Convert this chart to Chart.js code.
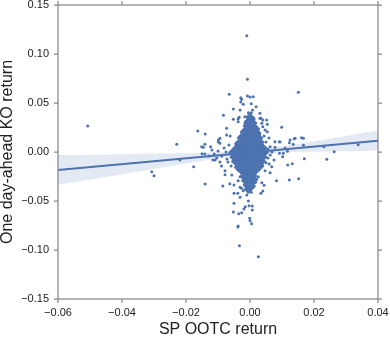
<!DOCTYPE html>
<html><head><meta charset="utf-8">
<script src="https://cdn.jsdelivr.net/npm/chart.js@4/dist/chart.umd.min.js"></script>
<style>html,body{margin:0;padding:0;background:#fff}#wrap{width:390px;height:339px}</style>
</head><body><div id="wrap"><canvas id="c" width="390" height="339"></canvas></div>
<script>
// Axis ticks
const xTicks = [-0.06, -0.04, -0.02, 0.00, 0.02, 0.04];
const yTicks = [-0.15, -0.10, -0.05, 0.00, 0.05, 0.10, 0.15];

// Scattered points outside the dense core (SP OOTC return, KO return)
const sparseX = [-0.0010,-0.0008,0.0151,-0.0065,-0.0029,-0.0008,0.0000,-0.0029,-0.0021,0.0004,
 -0.0507,-0.0307,-0.0300,-0.0229,-0.0219,-0.0176,-0.0163,-0.0140,-0.0083,-0.0052,
 0.0099,0.0138,0.0167,0.0123,0.0135,0.0167,0.0231,0.0338,0.0263,0.0170,
 0.0240,0.0132,0.0118,0.0102,0.0092,0.0078,0.0094,0.0109,0.0104,0.0117,
 0.0063,0.0052,0.0034,0.0047,0.0019,0.0010,-0.0140,-0.0085,0.0152,0.0083,
 -0.0146,-0.0099,-0.0094,-0.0073,-0.0062,-0.0037,-0.0031,-0.0026,0.0031,0.0040,
 0.0054,0.0040,-0.0034,-0.0052,-0.0073,-0.0063,-0.0050,-0.0031,0.0037,0.0044,
 0.0040,0.0034,-0.0038,-0.0031,-0.0050,-0.0005,-0.0003,0.0007,-0.0015,-0.0019,
 0.0007,-0.0052,-0.0035,-0.0026,-0.0001,0.0000,0.0005,-0.0037,-0.0038,-0.0033,
 0.0026,0.0123,-0.0109,-0.0104,-0.0089,-0.0078,-0.0078,-0.0057,-0.0037,-0.0050,
 0.0063,0.0068,0.0060,0.0050,0.0047,0.0026,0.0021,-0.0037,-0.0031,-0.0026,
 -0.0021,-0.0010,-0.0151,-0.0141,-0.0123,-0.0099,-0.0094,-0.0037,-0.0016,-0.0016,
 0.0008,0.0031,0.0037,0.0054,0.0026,0.0078,0.0092,0.0125,0.0141,0.0161,
 -0.0119,-0.0112,-0.0100,-0.0088,-0.0081,-0.0075,-0.0072,-0.0066,-0.0069,-0.0059,
 -0.0128,-0.0116,-0.0094,0.0056,0.0063,0.0069,0.0056,0.0075,0.0050,0.0059,
 0.0044,-0.0141,-0.0150];
const sparseY = [0.1187,0.0742,0.0609,0.0589,0.0554,0.0571,0.0561,0.0510,0.0487,0.0493,
 0.0265,-0.0201,-0.0242,0.0079,-0.0082,-0.0150,0.0214,0.0184,0.0374,0.0439,
 0.0252,0.0136,0.0140,0.0095,0.0079,0.0068,0.0054,0.0074,0.0003,-0.0068,
 -0.0074,-0.0119,-0.0133,-0.0048,-0.0013,0.0048,0.0102,0.0041,-0.0013,0.0007,
 0.0054,0.0326,0.0344,0.0224,0.0462,0.0564,-0.0326,-0.0347,-0.0272,-0.0293,
 0.0048,0.0122,0.0089,0.0173,0.0163,0.0309,0.0428,0.0538,0.0395,0.0326,
 0.0207,0.0258,0.0354,0.0334,0.0242,-0.0323,-0.0337,-0.0360,-0.0313,-0.0340,
 -0.0398,-0.0421,-0.0421,-0.0462,-0.0523,-0.0500,-0.0548,-0.0551,-0.0558,-0.0581,
 -0.0592,-0.0612,-0.0629,-0.0619,-0.0676,-0.0701,-0.0731,-0.0755,-0.0765,-0.0956,
 -0.1068,-0.0286,-0.0082,-0.0061,-0.0143,-0.0191,-0.0232,-0.0235,-0.0293,-0.0421,
 -0.0211,-0.0150,-0.0122,-0.0109,-0.0191,-0.0252,-0.0278,-0.0184,-0.0252,-0.0370,
 -0.0395,-0.0439,0.0054,0.0079,0.0054,0.0105,0.0140,0.0337,0.0360,0.0293,
 0.0428,0.0344,0.0293,0.0283,0.0207,0.0105,0.0105,0.0122,0.0140,0.0146,
 0.0020,-0.0020,0.0010,-0.0041,0.0041,0.0000,-0.0071,0.0071,-0.0102,-0.0143,
 -0.0041,-0.0082,-0.0102,0.0031,-0.0031,0.0000,-0.0061,-0.0082,0.0102,0.0143,
 0.0163,-0.0020,-0.0018];

// Dense core, read row by row: KO return of each row and the SP returns in it
const coreRowY = [0.0400,0.0385,0.0370,0.0355,0.0340,0.0325,0.0310,0.0295,0.0280,0.0265,
 0.0250,0.0235,0.0220,0.0205,0.0190,0.0175,0.0160,0.0145,0.0130,0.0115,
 0.0100,0.0085,0.0070,0.0055,0.0040,0.0025,0.0010,-0.0005,-0.0020,-0.0035,
 -0.0050,-0.0065,-0.0080,-0.0095,-0.0110,-0.0125,-0.0140,-0.0155,-0.0170,-0.0185,
 -0.0200,-0.0215,-0.0230,-0.0245,-0.0260,-0.0275,-0.0290,-0.0305,-0.0320,-0.0335,
 -0.0350,-0.0365,-0.0380,-0.0395,-0.0410];
const coreRowX = [
 [-0.0005,0.0004],
 [0.0000],
 [-0.0005,0.0004],
 [-0.0009,0.0000,0.0009],
 [-0.0005,0.0004,0.0013],
 [-0.0009,0.0000,0.0009],
 [-0.0014,-0.0005,0.0004,0.0013],
 [-0.0009,0.0000,0.0009,0.0018],
 [-0.0014,-0.0005,0.0004,0.0013],
 [-0.0018,-0.0009,0.0000,0.0009,0.0018],
 [-0.0014,-0.0005,0.0004,0.0013,0.0022],
 [-0.0018,-0.0009,0.0000,0.0009,0.0018,0.0027],
 [-0.0023,-0.0014,-0.0005,0.0004,0.0013,0.0022],
 [-0.0027,-0.0018,-0.0009,0.0000,0.0009,0.0018,0.0027],
 [-0.0023,-0.0014,-0.0005,0.0004,0.0013,0.0022,0.0031],
 [-0.0027,-0.0018,-0.0009,0.0000,0.0009,0.0018,0.0027],
 [-0.0032,-0.0023,-0.0014,-0.0005,0.0004,0.0013,0.0022,0.0031],
 [-0.0036,-0.0027,-0.0018,-0.0009,0.0000,0.0009,0.0018,0.0027,0.0036],
 [-0.0032,-0.0023,-0.0014,-0.0005,0.0004,0.0013,0.0022,0.0031],
 [-0.0036,-0.0027,-0.0018,-0.0009,0.0000,0.0009,0.0018,0.0027,0.0036],
 [-0.0041,-0.0032,-0.0023,-0.0014,-0.0005,0.0004,0.0013,0.0022,0.0031,0.0040],
 [-0.0045,-0.0036,-0.0027,-0.0018,-0.0009,0.0000,0.0009,0.0018,0.0027,0.0036],
 [-0.0041,-0.0032,-0.0023,-0.0014,-0.0005,0.0004,0.0013,0.0022,0.0031,0.0040],
 [-0.0045,-0.0036,-0.0027,-0.0018,-0.0009,0.0000,0.0009,0.0018,0.0027,0.0036,0.0045],
 [-0.0050,-0.0041,-0.0032,-0.0023,-0.0014,-0.0005,0.0004,0.0013,0.0022,0.0031,0.0040,0.0049],
 [-0.0054,-0.0045,-0.0036,-0.0027,-0.0018,-0.0009,0.0000,0.0009,0.0018,0.0027,0.0036,0.0045],
 [-0.0059,-0.0050,-0.0041,-0.0032,-0.0023,-0.0014,-0.0005,0.0004,0.0013,0.0022,0.0031,0.0040,0.0049],
 [-0.0063,-0.0054,-0.0045,-0.0036,-0.0027,-0.0018,-0.0009,0.0000,0.0009,0.0018,0.0027,0.0036,0.0045,0.0054],
 [-0.0059,-0.0050,-0.0041,-0.0032,-0.0023,-0.0014,-0.0005,0.0004,0.0013,0.0022,0.0031,0.0040,0.0049],
 [-0.0054,-0.0045,-0.0036,-0.0027,-0.0018,-0.0009,0.0000,0.0009,0.0018,0.0027,0.0036,0.0045],
 [-0.0059,-0.0050,-0.0041,-0.0032,-0.0023,-0.0014,-0.0005,0.0004,0.0013,0.0022,0.0031,0.0040,0.0049],
 [-0.0054,-0.0045,-0.0036,-0.0027,-0.0018,-0.0009,0.0000,0.0009,0.0018,0.0027,0.0036,0.0045],
 [-0.0050,-0.0041,-0.0032,-0.0023,-0.0014,-0.0005,0.0004,0.0013,0.0022,0.0031,0.0040],
 [-0.0054,-0.0045,-0.0036,-0.0027,-0.0018,-0.0009,0.0000,0.0009,0.0018,0.0027,0.0036,0.0045],
 [-0.0050,-0.0041,-0.0032,-0.0023,-0.0014,-0.0005,0.0004,0.0013,0.0022,0.0031,0.0040],
 [-0.0045,-0.0036,-0.0027,-0.0018,-0.0009,0.0000,0.0009,0.0018,0.0027,0.0036],
 [-0.0041,-0.0032,-0.0023,-0.0014,-0.0005,0.0004,0.0013,0.0022,0.0031,0.0040],
 [-0.0045,-0.0036,-0.0027,-0.0018,-0.0009,0.0000,0.0009,0.0018,0.0027,0.0036],
 [-0.0041,-0.0032,-0.0023,-0.0014,-0.0005,0.0004,0.0013,0.0022,0.0031],
 [-0.0036,-0.0027,-0.0018,-0.0009,0.0000,0.0009,0.0018,0.0027],
 [-0.0032,-0.0023,-0.0014,-0.0005,0.0004,0.0013,0.0022],
 [-0.0027,-0.0018,-0.0009,0.0000,0.0009,0.0018],
 [-0.0023,-0.0014,-0.0005,0.0004,0.0013],
 [-0.0027,-0.0018,-0.0009,0.0000,0.0009,0.0018],
 [-0.0023,-0.0014,-0.0005,0.0004,0.0013],
 [-0.0018,-0.0009,0.0000,0.0009,0.0018],
 [-0.0023,-0.0014,-0.0005,0.0004,0.0013],
 [-0.0018,-0.0009,0.0000,0.0009,0.0018],
 [-0.0014,-0.0005,0.0004,0.0013],
 [-0.0018,-0.0009,0.0000,0.0009],
 [-0.0014,-0.0005,0.0004,0.0013],
 [-0.0009,0.0000,0.0009],
 [-0.0014,-0.0005,0.0004],
 [-0.0009,0.0000],
 [-0.0005,0.0004]
];

// Regression line and its confidence band
const fitX = [-0.06, 0.04];
const fitY = [-0.0183, 0.0116];
const bandX = [-0.06,-0.05,-0.04,-0.03,-0.02,-0.01,0.00,0.01,0.02,0.03,0.04];
const bandUpper = [-0.0031,-0.0027,-0.0022,-0.0016,-0.0010,-0.0002,0.0016,0.0058,0.0110,0.0164,0.0220];
const bandLower = [-0.0335,-0.0281,-0.0226,-0.0172,-0.0118,-0.0066,-0.0024,-0.0006,0.0002,0.0008,0.0012];

const BLUE = '#4c72b0';
const FONT = "'Liberation Sans', Arial, sans-serif";

const points = [];
sparseX.forEach((x, i) => points.push({x, y: sparseY[i]}));
coreRowY.forEach((y, r) => coreRowX[r].forEach(x => points.push({x, y})));

const fmt = v => Math.abs(v) < 1e-9 ? '0.00' : (v < 0 ? '\u2212' : '') + Math.abs(v).toFixed(2);

const frame = {
  id: 'frame',
  afterDraw(chart) {
    const {ctx, chartArea: a, scales: {x, y}} = chart;
    ctx.save();
    ctx.strokeStyle = '#888';
    ctx.lineWidth = 1.25;
    ctx.strokeRect(a.left, a.top, a.right - a.left, a.bottom - a.top);
    ctx.beginPath();
    xTicks.forEach(v => {
      const px = x.getPixelForValue(v);
      ctx.moveTo(px, a.bottom); ctx.lineTo(px, a.bottom + 4);
      ctx.moveTo(px, a.top); ctx.lineTo(px, a.top - 4);
    });
    yTicks.forEach(v => {
      const py = y.getPixelForValue(v);
      ctx.moveTo(a.left, py); ctx.lineTo(a.left - 4, py);
      ctx.moveTo(a.right, py); ctx.lineTo(a.right + 4, py);
    });
    ctx.stroke();
    ctx.restore();
  }
};

new Chart(document.getElementById('c'), {
  type: 'scatter',
  data: {
    datasets: [
      {
        type: 'line', label: 'ci upper',
        data: bandX.map((x, i) => ({x, y: bandUpper[i]})),
        borderWidth: 0, borderColor: 'rgba(0,0,0,0)', pointRadius: 0,
        backgroundColor: 'rgba(76,114,176,0.15)', fill: '+1',
        cubicInterpolationMode: 'monotone', order: 5
      },
      {
        type: 'line', label: 'ci lower',
        data: bandX.map((x, i) => ({x, y: bandLower[i]})),
        borderWidth: 0, borderColor: 'rgba(0,0,0,0)', pointRadius: 0,
        fill: false, cubicInterpolationMode: 'monotone', order: 5
      },
      {
        label: 'returns', data: points,
        pointRadius: 1.5, pointHoverRadius: 1.5,
        backgroundColor: BLUE, borderWidth: 0, order: 3
      },
      {
        type: 'line', label: 'fit',
        data: fitX.map((x, i) => ({x, y: fitY[i]})),
        borderColor: BLUE, borderWidth: 2, pointRadius: 0, fill: false, order: 1
      }
    ]
  },
  options: {
    responsive: false, animation: false, devicePixelRatio: 1,
    layout: {padding: {top: 5, right: 12, left: 0, bottom: 0}},
    plugins: {legend: {display: false}, tooltip: {enabled: false}},
    scales: {
      x: {
        type: 'linear', min: -0.06, max: 0.04,
        afterBuildTicks: s => { s.ticks = xTicks.map(v => ({value: v})); },
        afterFit: s => { s.height = 40; s.paddingLeft = 0; s.paddingRight = 0; },
        grid: {display: false, drawTicks: false, tickLength: 0},
        border: {display: false},
        ticks: {callback: v => fmt(v), padding: 7, color: '#222', font: {family: FONT, size: 11}, maxRotation: 0},
        title: {display: true, text: 'SP OOTC return', color: '#222', font: {family: FONT, size: 16}, padding: {top: 0, bottom: 0}}
      },
      y: {
        type: 'linear', min: -0.15, max: 0.15,
        afterBuildTicks: s => { s.ticks = yTicks.map(v => ({value: v})); },
        afterFit: s => { s.width = 58; s.paddingTop = 0; s.paddingBottom = 0; },
        grid: {display: false, drawTicks: false, tickLength: 0},
        border: {display: false},
        ticks: {callback: v => fmt(v), padding: 9, color: '#222', font: {family: FONT, size: 11}},
        title: {display: true, text: 'One day-ahead KO return', color: '#222', font: {family: FONT, size: 16, lineHeight: 0.95}, padding: {top: 0, bottom: 0}}
      }
    }
  },
  plugins: [frame]
});
</script>
</body></html>
